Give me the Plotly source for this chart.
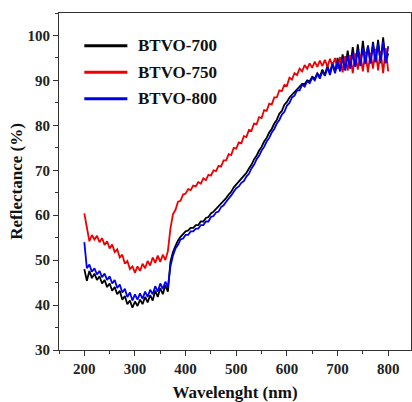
import plotly.graph_objects as go

wavelength = list(range(200, 805, 5))

btvo_700 = [48.0, 45.4, 47.6, 46.0, 47.0, 45.6, 46.4, 44.8, 45.6, 44.0,
            44.8, 43.2, 44.0, 42.4, 43.2, 41.2, 42.0, 40.2, 41.0, 39.4,
            40.8, 39.8, 41.2, 40.2, 41.8, 40.6, 42.2, 41.0, 43.2, 41.8,
            43.8, 42.4, 44.4, 43.0, 49.6, 51.8, 53.2, 54.4, 55.2, 55.8,
            56.4, 56.6, 57.2, 57.2, 57.8, 57.8, 58.6, 58.6, 59.4, 59.6,
            60.4, 60.8, 61.4, 61.8, 62.6, 63.2, 63.8, 64.6, 65.2, 66.2,
            66.8, 67.4, 68.0, 68.8, 69.4, 70.4, 71.2, 72.4, 73.2, 74.4,
            75.2, 76.4, 77.2, 78.4, 79.2, 80.4, 81.2, 82.6, 83.2, 84.6,
            85.2, 86.2, 86.8, 87.6, 88.2, 88.6, 89.2, 89.2, 90.0, 89.8,
            90.8, 90.4, 91.6, 90.8, 92.4, 91.2, 93.2, 91.6, 94.0, 91.8,
            95.0, 92.2, 95.8, 92.6, 96.6, 93.0, 97.4, 93.2, 98.0, 93.6,
            98.8, 94.0, 97.8, 93.8, 98.6, 94.2, 99.0, 93.8, 99.6, 94.0,
            96.0]

btvo_750 = [60.4, 56.8, 54.2, 55.6, 54.6, 55.4, 54.0, 54.9, 53.4, 54.2,
            52.6, 53.5, 51.8, 52.4, 50.6, 51.2, 49.2, 49.8, 48.0, 48.6,
            47.2, 48.6, 47.6, 49.2, 48.2, 49.8, 48.8, 50.6, 49.4, 51.0,
            49.6, 51.2, 50.0, 52.0, 57.0, 60.2, 61.2, 63.0, 63.2, 64.6,
            64.8, 65.8, 65.6, 66.6, 66.4, 67.4, 67.0, 68.2, 67.8, 69.0,
            68.8, 70.0, 69.8, 71.0, 70.8, 72.2, 72.2, 73.6, 73.4, 75.0,
            74.8, 76.2, 76.0, 77.6, 77.4, 79.0, 78.8, 80.4, 80.2, 81.8,
            81.6, 83.4, 83.2, 84.8, 84.6, 86.2, 86.2, 87.8, 87.6, 89.0,
            88.8, 90.6, 90.2, 91.6, 91.2, 92.6, 92.0, 93.4, 92.6, 93.8,
            92.8, 94.2, 93.0, 94.4, 93.2, 94.6, 93.0, 94.8, 93.2, 95.0,
            92.6, 95.2, 91.8, 95.4, 92.2, 95.6, 91.6, 96.0, 92.4, 95.8,
            92.0, 96.4, 91.8, 96.2, 92.6, 97.0, 92.2, 96.6, 91.6, 97.2,
            92.0]

btvo_800 = [54.0, 48.2, 49.0, 47.4, 48.2, 46.8, 47.6, 46.2, 47.0, 45.6,
            46.4, 44.8, 45.6, 43.8, 44.6, 42.8, 43.6, 41.8, 42.8, 41.0,
            42.4, 41.2, 42.6, 41.4, 43.0, 41.8, 43.4, 42.4, 44.2, 43.0,
            44.8, 43.6, 45.2, 44.0, 48.6, 51.0, 52.6, 53.4, 54.6, 54.8,
            55.6, 55.6, 56.4, 56.4, 57.0, 57.0, 57.8, 57.8, 58.6, 58.6,
            59.6, 59.8, 60.6, 60.8, 61.8, 62.2, 63.0, 63.6, 64.4, 65.2,
            66.0, 66.4, 67.2, 67.6, 68.6, 69.2, 70.4, 71.2, 72.4, 73.2,
            74.4, 75.2, 76.4, 77.2, 78.4, 79.2, 80.4, 81.2, 82.4, 83.0,
            84.4, 85.0, 86.2, 86.6, 87.8, 87.8, 89.0, 88.6, 89.8, 89.4,
            90.6, 90.0, 91.4, 90.4, 92.0, 91.0, 92.8, 91.2, 93.6, 91.6,
            94.2, 92.0, 95.0, 92.2, 95.6, 92.6, 96.2, 93.0, 96.8, 93.2,
            97.2, 93.6, 97.6, 93.8, 98.0, 94.0, 98.2, 94.2, 98.6, 93.8,
            97.6]

series_names = ["BTVO-700", "BTVO-750", "BTVO-800"]
series_values = [btvo_700, btvo_750, btvo_800]
series_colors = ["#000000", "#ee0000", "#0000ee"]

x_ticks = [200, 300, 400, 500, 600, 700, 800]
y_ticks = [30, 40, 50, 60, 70, 80, 90, 100]

FONT = "Liberation Serif"

fig = go.Figure()
for name, vals, col in zip(series_names, series_values, series_colors):
    fig.add_trace(go.Scatter(x=wavelength, y=vals, mode="lines", name=name,
                             line=dict(color=col, width=1.8), showlegend=False))

# manual legend (line samples + labels)
legend_y = [97.7, 91.8, 85.9]
for name, col, ly in zip(series_names, series_colors, legend_y):
    fig.add_shape(type="line", xref="x", yref="y", x0=200, x1=285, y0=ly, y1=ly,
                  line=dict(color=col, width=3))
    fig.add_annotation(x=303, y=ly, xref="x", yref="y", text=f"<b>{name}</b>",
                       showarrow=False, xanchor="left", yanchor="middle",
                       font=dict(family=FONT, size=17, color="#111"))

axis_common = dict(showline=True, linecolor="#333", linewidth=1.2, mirror=True,
                   ticks="outside", tickcolor="#333", ticklen=5, tickwidth=1,
                   showgrid=False, zeroline=False, automargin=False,
                   tickfont=dict(family=FONT, size=15, color="#222"))

fig.update_xaxes(range=[150, 845], tickvals=x_ticks,
                 ticktext=[f"<b>{v}</b>" for v in x_ticks],
                 minor=dict(dtick=50, tick0=150, ticks="outside", ticklen=3, tickcolor="#333"),
                 title=dict(text="<b>Wavelenght (nm)</b>", standoff=16,
                            font=dict(family=FONT, size=17, color="#111")),
                 **axis_common)
fig.update_yaxes(range=[30, 105], tickvals=y_ticks,
                 ticktext=[f"<b>{v}</b>" for v in y_ticks],
                 minor=dict(dtick=5, tick0=30, ticks="outside", ticklen=3, tickcolor="#333"),
                 title=dict(text="<b>Reflectance (%)</b>", standoff=0,
                            font=dict(family=FONT, size=17, color="#111")),
                 **axis_common)

fig.update_layout(width=412, height=402,
                  margin=dict(l=59, r=1, t=13, b=52),
                  paper_bgcolor="white", plot_bgcolor="white")

fig.write_html("out.html")
